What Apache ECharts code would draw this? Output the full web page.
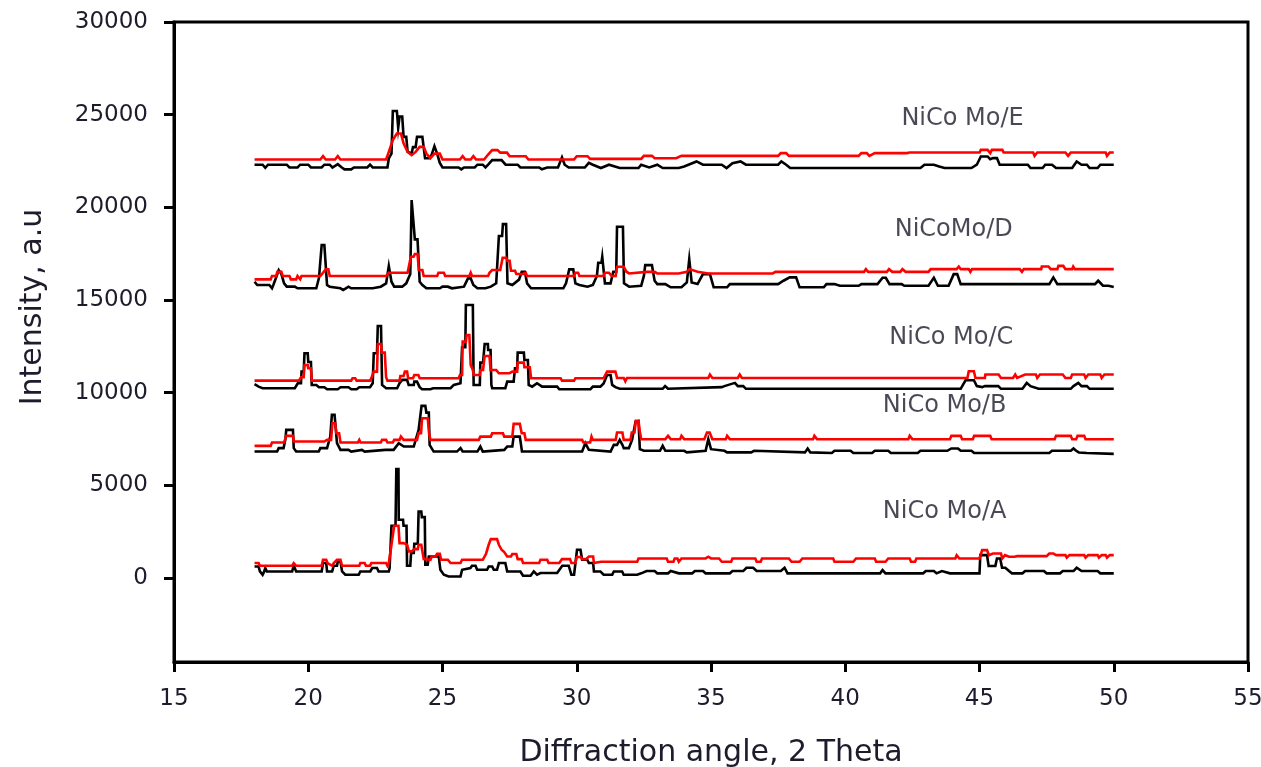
<!DOCTYPE html>
<html>
<head>
<meta charset="utf-8">
<script src="https://cdn.jsdelivr.net/npm/echarts@6/dist/echarts.min.js"></script>
<style>html,body{margin:0;padding:0;background:#fff;}#chart{width:1261px;height:767px;}</style>
</head>
<body>
<div id="chart"></div>
<script>
// ---- Data (2 Theta, intensity) ----
const xTicks = [15, 20, 25, 30, 35, 40, 45, 50, 55];
const yTickLabels = [0, 5000, 10000, 15000, 20000, 25000, 30000];

const sampleNames = ["NiCo Mo/E", "NiCoMo/D", "NiCo Mo/C", "NiCo Mo/B", "NiCo Mo/A"];
const labelX = [44.37, 44.04, 43.95, 43.7, 43.7];
const labelY = [24755, 18772, 12978, 9313, 3573];

const eBlack = [[18.0,22300],[18.3,22300],[18.4,22130],[18.5,22300],[19.2,22300],[19.3,22150],[19.6,22150],[19.7,22300],[20.0,22300],[20.1,22150],[20.5,22150],[20.6,22300],[20.8,22300],[20.9,22150],[21.1,22330],[21.25,22150],[21.35,22050],[21.6,22050],[21.7,22150],[22.2,22150],[22.3,22300],[22.4,22150],[22.95,22150],[23.0,22650],[23.1,22900],[23.15,25200],[23.3,25200],[23.35,24300],[23.4,24900],[23.5,24900],[23.55,23800],[23.65,23800],[23.7,23000],[23.85,22900],[23.9,23250],[24.0,23250],[24.05,23800],[24.25,23800],[24.35,22650],[24.5,22650],[24.6,22850],[24.7,23300],[24.8,22900],[24.9,22400],[25.0,22150],[25.6,22150],[25.7,22050],[25.8,22150],[26.2,22150],[26.3,22300],[26.5,22300],[26.6,22150],[26.7,22300],[26.85,22550],[27.2,22550],[27.35,22300],[27.8,22300],[27.9,22150],[28.6,22150],[28.7,22050],[28.9,22150],[29.3,22150],[29.45,22700],[29.55,22300],[29.7,22150],[30.3,22150],[30.45,22400],[30.6,22300],[30.9,22120],[31.2,22300],[31.6,22120],[32.3,22120],[32.4,22300],[32.7,22150],[33.0,22300],[33.2,22120],[33.8,22120],[34.0,22200],[34.46,22476],[34.7,22300],[35.4,22300],[35.58,22120],[35.8,22380],[36.1,22476],[36.3,22300],[37.5,22300],[37.62,22476],[37.8,22300],[37.95,22120],[42.8,22120],[42.95,22300],[43.3,22300],[43.5,22200],[43.7,22120],[44.7,22120],[44.9,22300],[45.05,22746],[45.3,22746],[45.4,22600],[45.5,22656],[45.65,22656],[45.75,22300],[46.8,22300],[46.9,22120],[47.35,22120],[47.45,22300],[47.7,22300],[47.85,22120],[48.45,22120],[48.62,22476],[48.8,22300],[49.0,22300],[49.1,22120],[49.4,22120],[49.5,22300],[50.0,22300]];
const eRed = [[18.0,22580],[20.45,22580],[20.55,22760],[20.65,22580],[21.0,22580],[21.1,22760],[21.2,22580],[22.9,22580],[23.0,22990],[23.15,23625],[23.3,23985],[23.45,23985],[23.55,23460],[23.7,22990],[23.85,22815],[24.0,22990],[24.15,23260],[24.3,23260],[24.4,22900],[24.55,22650],[24.7,22900],[24.9,22900],[25.0,22580],[25.65,22580],[25.75,22760],[25.85,22580],[26.05,22580],[26.15,22760],[26.25,22580],[26.55,22580],[26.7,22850],[26.85,23085],[27.05,23085],[27.15,22950],[27.4,22950],[27.5,22760],[28.1,22760],[28.2,22580],[29.9,22580],[30.0,22760],[30.4,22760],[30.5,22615],[32.4,22615],[32.5,22776],[32.8,22776],[32.9,22650],[33.7,22650],[33.75,22560],[33.9,22776],[37.5,22776],[37.6,22925],[37.8,22925],[37.9,22776],[40.5,22776],[40.6,22925],[40.8,22925],[40.9,22776],[41.1,22925],[42.3,22925],[42.4,22956],[45.0,22956],[45.05,23100],[45.3,23100],[45.4,22925],[45.46,23100],[45.85,23100],[45.9,22956],[47.0,22956],[47.05,22776],[47.15,22956],[48.2,22956],[48.3,22776],[48.4,22956],[49.7,22956],[49.75,22776],[49.85,22956],[50.0,22956]];

const dBlack = [[18.0,15987],[18.1,15809],[18.55,15809],[18.65,15631],[18.7,15809],[18.8,16200],[18.9,16617],[19.0,16400],[19.1,15900],[19.2,15720],[19.5,15720],[19.6,15631],[20.3,15631],[20.4,16200],[20.5,17965],[20.6,17965],[20.7,15809],[20.8,15720],[21.2,15631],[21.3,15540],[21.4,15631],[21.5,15720],[21.6,15631],[22.4,15631],[22.7,15720],[22.9,15900],[23.0,16833],[23.1,15987],[23.2,15720],[23.5,15720],[23.65,15900],[23.8,16400],[23.85,20390],[23.92,20390],[23.97,18270],[24.07,18270],[24.15,15987],[24.25,15809],[24.4,15631],[24.9,15631],[25.0,15720],[25.2,15720],[25.35,15631],[25.8,15720],[25.95,16170],[26.05,16170],[26.15,15809],[26.3,15631],[26.6,15631],[26.8,15720],[27.0,15900],[27.1,18450],[27.22,18450],[27.25,19097],[27.37,19097],[27.42,15900],[27.6,15809],[27.85,16100],[27.95,16527],[28.07,16527],[28.15,15900],[28.3,15631],[29.5,15631],[29.6,15900],[29.72,16655],[29.87,16655],[29.95,15900],[30.1,15809],[30.4,15720],[30.6,15809],[30.75,16300],[30.8,17011],[30.92,17011],[30.95,17334],[31.0,17334],[31.05,15900],[31.26,15900],[31.36,16527],[31.47,16527],[31.5,18951],[31.72,18951],[31.76,15900],[31.95,15720],[32.4,15770],[32.5,16300],[32.55,16880],[32.8,16880],[32.9,16040],[33.0,15860],[33.3,15860],[33.5,15685],[33.9,15685],[34.1,15950],[34.19,17200],[34.28,15950],[34.5,15860],[34.7,16397],[34.96,16397],[35.1,15685],[35.6,15685],[35.7,15860],[37.5,15860],[37.7,16040],[37.93,16220],[38.17,16220],[38.3,15685],[39.2,15685],[39.3,15860],[39.6,15860],[39.8,15770],[40.5,15770],[40.6,15860],[41.2,15860],[41.39,16200],[41.51,16200],[41.65,15860],[42.1,15860],[42.2,15770],[43.1,15770],[43.3,16200],[43.45,15770],[43.85,15770],[44.04,16397],[44.17,16397],[44.3,15860],[47.6,15860],[47.75,16220],[47.9,15860],[49.3,15860],[49.42,16040],[49.6,15770],[49.8,15770],[50.0,15700]];
const dRed = [[18.0,16116],[18.6,16116],[18.65,16294],[18.8,16294],[18.85,16527],[19.0,16527],[19.05,16294],[19.3,16294],[19.35,16116],[19.55,16116],[19.6,16294],[19.65,16294],[19.7,16116],[19.75,16294],[20.45,16294],[20.55,16473],[20.65,16655],[20.75,16655],[20.8,16294],[22.9,16294],[23.0,16473],[23.7,16473],[23.82,17334],[23.92,17334],[23.97,17480],[24.07,17480],[24.12,16617],[24.25,16617],[24.3,16294],[24.8,16294],[24.85,16473],[25.05,16473],[25.1,16294],[26.0,16294],[26.05,16473],[26.1,16294],[26.7,16294],[26.75,16473],[26.85,16617],[27.15,16617],[27.24,17280],[27.37,17280],[27.42,17119],[27.5,17119],[27.55,16580],[27.7,16580],[27.75,16402],[28.0,16402],[28.1,16473],[28.15,16294],[29.9,16294],[29.95,16473],[30.05,16473],[30.1,16294],[31.0,16294],[31.05,16473],[31.2,16473],[31.3,16294],[31.45,16294],[31.5,16795],[31.75,16795],[31.85,16527],[31.95,16434],[32.6,16520],[32.9,16520],[33.0,16434],[33.8,16434],[34.1,16520],[34.2,16666],[34.5,16520],[34.9,16434],[37.3,16434],[37.4,16520],[40.7,16520],[40.77,16666],[40.85,16520],[41.55,16520],[41.63,16666],[41.75,16520],[42.05,16520],[42.13,16666],[42.25,16520],[43.1,16520],[43.18,16666],[44.15,16666],[44.23,16806],[44.3,16666],[44.6,16666],[44.66,16520],[44.72,16666],[46.5,16666],[46.58,16520],[46.65,16666],[47.3,16666],[47.32,16806],[47.57,16806],[47.65,16666],[47.9,16666],[47.94,16844],[48.12,16844],[48.2,16666],[48.45,16666],[48.49,16806],[48.55,16666],[50.0,16666]];

const cBlack = [[18.0,10457],[18.07,10457],[18.15,10327],[18.3,10241],[19.5,10241],[19.61,10510],[19.73,10510],[19.75,11136],[19.83,11136],[19.86,12128],[19.98,12128],[20.0,11659],[20.1,11659],[20.13,10419],[20.3,10419],[20.4,10295],[20.6,10295],[20.7,10187],[21.1,10187],[21.2,10295],[21.5,10295],[21.6,10187],[21.8,10187],[21.9,10295],[22.3,10295],[22.4,10510],[22.44,12128],[22.56,12128],[22.59,13599],[22.71,13599],[22.75,10419],[22.9,10241],[23.31,10241],[23.4,10510],[23.5,10689],[23.68,10689],[23.74,10419],[23.93,10419],[23.95,10597],[24.05,10597],[24.15,10300],[24.24,10187],[24.55,10187],[24.65,10241],[25.3,10241],[25.42,10419],[25.67,10510],[25.73,12451],[25.85,12451],[25.87,14731],[26.13,14731],[26.16,10419],[26.39,10419],[26.41,11621],[26.51,11621],[26.57,12629],[26.69,12629],[26.7,12305],[26.79,12305],[26.82,10419],[26.85,10241],[27.34,10241],[27.41,10597],[27.65,10597],[27.7,11319],[27.78,11319],[27.8,12160],[28.03,12160],[28.05,11766],[28.18,11766],[28.21,10419],[28.34,10327],[28.52,10510],[28.71,10327],[29.27,10327],[29.35,10187],[30.51,10187],[30.6,10327],[30.88,10327],[31.0,10500],[31.13,10958],[31.26,10958],[31.32,10419],[31.44,10300],[31.6,10210],[33.2,10210],[33.29,10355],[33.4,10210],[35.4,10300],[35.5,10355],[35.89,10530],[36.0,10355],[36.2,10355],[36.3,10210],[44.3,10210],[44.48,10672],[44.79,10672],[44.9,10355],[45.1,10300],[45.2,10355],[45.7,10355],[45.8,10210],[46.6,10210],[46.76,10530],[46.9,10355],[47.2,10210],[48.4,10210],[48.5,10355],[48.68,10530],[48.8,10355],[49.0,10355],[49.1,10210],[50.0,10210]];
const cRed = [[18.0,10651],[19.65,10651],[19.73,10834],[19.83,10834],[19.86,11497],[19.98,11497],[20.0,11319],[20.1,11319],[20.13,10651],[21.6,10651],[21.65,10780],[21.75,10780],[21.8,10651],[22.3,10651],[22.35,10780],[22.44,11136],[22.56,11136],[22.59,12629],[22.71,12629],[22.74,12160],[22.85,12160],[22.9,10834],[22.95,10651],[23.4,10651],[23.43,10904],[23.55,10904],[23.6,11136],[23.68,11136],[23.72,10780],[23.9,10780],[23.95,10958],[24.1,10958],[24.15,10780],[25.6,10780],[25.65,10958],[25.73,10958],[25.75,12753],[25.87,12753],[25.9,13114],[26.0,13114],[26.05,11497],[26.13,11228],[26.16,10958],[26.39,10958],[26.41,11228],[26.51,11228],[26.57,11982],[26.75,11982],[26.79,11228],[27.0,11228],[27.1,11050],[27.5,11050],[27.6,11136],[27.78,11136],[27.8,11621],[28.03,11621],[28.05,11373],[28.25,11373],[28.3,10780],[29.4,10780],[29.45,10651],[29.9,10651],[29.95,10780],[31.0,10780],[31.13,11136],[31.44,11136],[31.5,10796],[31.75,10796],[31.81,10620],[31.87,10796],[34.9,10796],[34.96,10979],[35.05,10796],[36.0,10796],[36.07,10979],[36.15,10796],[44.55,10796],[44.6,11157],[44.79,11157],[44.85,10796],[45.2,10796],[45.22,10979],[45.71,10979],[45.8,10796],[46.25,10796],[46.33,10979],[46.4,10796],[46.7,10979],[47.1,10979],[47.15,10796],[47.25,10979],[48.1,10979],[48.2,10796],[48.4,10796],[48.45,10979],[48.9,10979],[48.95,10796],[49.05,10979],[49.5,10979],[49.55,10796],[49.65,10979],[50.0,10979]];

const bBlack = [[18.0,6824],[18.84,6824],[18.9,7007],[19.08,7007],[19.15,7500],[19.18,7993],[19.43,7993],[19.46,7007],[19.55,6824],[20.39,6824],[20.45,7007],[20.7,7007],[20.82,7632],[20.88,8802],[20.98,8802],[21.07,7277],[21.2,6915],[21.5,6915],[21.6,6824],[22.0,6915],[22.1,6824],[22.87,6915],[23.18,6915],[23.37,7277],[23.56,7093],[23.62,7093],[23.93,7093],[24.11,7993],[24.18,7993],[24.22,9287],[24.36,9287],[24.4,8926],[24.49,8926],[24.52,7185],[24.67,6824],[25.54,6824],[25.67,7007],[25.75,6824],[26.3,6824],[26.41,7093],[26.5,6824],[27.3,6915],[27.41,7093],[27.6,7093],[27.65,7632],[27.88,7632],[27.96,6824],[30.2,6824],[30.32,7277],[30.45,6915],[30.51,6824],[31.26,6824],[31.38,7185],[31.5,7185],[31.6,7454],[31.7,7185],[31.75,7007],[31.94,7007],[32.06,7454],[32.19,8441],[32.3,8472],[32.35,6953],[32.5,6866],[33.1,6866],[33.2,7134],[33.3,6866],[34.0,6866],[34.1,6780],[34.8,6866],[34.9,7492],[35.0,6953],[35.5,6866],[35.6,6780],[36.5,6780],[36.6,6866],[38.5,6780],[38.6,6990],[38.7,6780],[39.5,6743],[39.6,6866],[40.2,6866],[40.3,6743],[41.0,6743],[41.1,6866],[41.6,6866],[41.7,6743],[42.7,6743],[42.8,6866],[43.8,6866],[43.95,6990],[44.2,6990],[44.3,6866],[44.7,6866],[44.8,6743],[47.6,6743],[47.7,6866],[48.4,6866],[48.5,6990],[48.6,6866],[48.7,6775],[49.0,6743],[50.0,6700]];
const bRed = [[18.0,7131],[18.6,7131],[18.65,7309],[19.1,7309],[19.18,7670],[19.43,7670],[19.46,7363],[20.6,7363],[20.7,7454],[20.85,7454],[20.9,8355],[21.0,8355],[21.05,7815],[21.15,7815],[21.2,7309],[21.85,7309],[21.9,7454],[21.95,7309],[22.7,7309],[22.75,7454],[22.9,7454],[22.95,7309],[23.15,7309],[23.2,7454],[23.4,7454],[23.45,7632],[23.55,7454],[24.05,7454],[24.11,7815],[24.2,7815],[24.24,8624],[24.45,8624],[24.5,7815],[24.55,7454],[26.35,7454],[26.41,7632],[26.8,7632],[26.85,7815],[27.25,7815],[27.3,7632],[27.6,7632],[27.65,8317],[27.88,8317],[27.95,7815],[28.05,7815],[28.1,7454],[30.2,7454],[30.25,7309],[30.5,7309],[30.55,7632],[30.6,7454],[31.45,7454],[31.5,7850],[31.7,7850],[31.75,7454],[32.0,7454],[32.05,7850],[32.15,7850],[32.2,8480],[32.3,8480],[32.35,7900],[32.4,7492],[33.3,7492],[33.4,7670],[33.5,7492],[33.85,7492],[33.9,7670],[34.0,7492],[34.75,7492],[34.85,7848],[34.95,7848],[35.05,7492],[35.55,7492],[35.6,7670],[35.7,7492],[38.8,7492],[38.85,7670],[38.95,7492],[42.35,7492],[42.4,7670],[42.5,7492],[43.9,7492],[43.95,7670],[44.3,7670],[44.35,7492],[44.75,7492],[44.8,7670],[45.4,7670],[45.45,7492],[47.8,7492],[47.85,7670],[48.4,7670],[48.45,7492],[48.6,7492],[48.65,7670],[48.9,7670],[48.95,7492],[50.0,7492]];

const aBlack = [[18.0,626],[18.15,626],[18.2,356],[18.3,178],[18.36,356],[18.4,539],[18.46,356],[19.4,356],[19.46,663],[19.55,356],[20.5,356],[20.55,808],[20.67,808],[20.7,356],[20.89,356],[20.95,663],[21.07,663],[21.1,895],[21.2,895],[21.26,356],[21.38,178],[21.88,178],[21.94,356],[22.31,356],[22.38,539],[22.56,539],[22.62,356],[23.0,356],[23.03,539],[23.1,2819],[23.25,2819],[23.28,5875],[23.36,5875],[23.37,3142],[23.53,3142],[23.55,2819],[23.66,2819],[23.68,663],[23.8,663],[23.83,1348],[23.93,1348],[23.95,1849],[24.08,1849],[24.11,3590],[24.21,3590],[24.23,3288],[24.34,3288],[24.36,717],[24.45,717],[24.49,1164],[24.86,1164],[24.92,447],[25.05,178],[25.23,86],[25.67,86],[25.73,447],[26.04,539],[26.1,663],[26.23,663],[26.29,447],[26.66,447],[26.72,626],[26.85,626],[26.91,447],[27.03,447],[27.1,808],[27.34,808],[27.41,356],[27.9,356],[28.0,124],[28.28,124],[28.4,356],[28.52,178],[28.65,270],[29.27,270],[29.46,663],[29.7,663],[29.8,178],[29.9,178],[30.01,1525],[30.14,1525],[30.2,986],[30.39,986],[30.45,808],[30.61,808],[30.64,356],[30.88,356],[31.0,178],[31.32,178],[31.38,356],[31.69,356],[31.75,178],[32.25,178],[32.4,253],[32.6,377],[32.9,377],[33.0,253],[33.4,253],[33.5,377],[33.8,253],[34.3,253],[34.4,377],[34.7,377],[34.8,253],[35.7,253],[35.8,377],[36.2,377],[36.32,555],[36.57,555],[36.7,377],[37.6,377],[37.74,555],[37.85,253],[41.3,253],[41.39,431],[41.5,253],[42.9,253],[43.0,377],[43.3,377],[43.4,253],[43.6,377],[43.9,253],[45.0,253],[45.03,1234],[45.28,1234],[45.34,647],[45.59,647],[45.65,1056],[45.77,1056],[45.84,555],[45.96,555],[46.1,377],[46.21,253],[46.6,253],[46.7,377],[47.4,377],[47.5,253],[48.0,253],[48.1,377],[48.5,377],[48.62,555],[48.8,377],[49.4,377],[49.5,253],[50.0,253]];
const aRed = [[18.0,808],[18.15,808],[18.2,663],[19.4,663],[19.46,808],[19.55,663],[20.5,663],[20.55,986],[20.67,986],[20.72,808],[20.89,663],[20.95,808],[21.07,986],[21.2,986],[21.26,663],[21.9,663],[21.94,808],[22.1,808],[22.15,663],[22.3,663],[22.35,808],[22.9,808],[22.95,663],[23.0,808],[23.12,2000],[23.2,2819],[23.36,2819],[23.4,1885],[23.55,1885],[23.68,1800],[23.75,1436],[23.85,1436],[23.95,1562],[24.08,1562],[24.11,1795],[24.21,1795],[24.3,1023],[24.55,986],[24.6,1164],[24.74,1164],[24.8,1308],[24.9,1308],[24.95,986],[25.2,986],[25.3,808],[25.67,808],[25.73,986],[26.5,986],[26.62,1300],[26.72,1795],[26.8,2101],[27.03,2101],[27.1,1795],[27.2,1525],[27.3,1400],[27.41,1164],[27.55,1164],[27.6,1293],[27.75,1293],[27.8,1023],[27.95,1023],[28.0,808],[28.6,808],[28.65,986],[28.9,986],[28.95,808],[29.35,808],[29.45,1023],[29.75,1023],[29.8,808],[29.95,808],[30.0,1132],[30.15,1132],[30.2,1023],[30.35,1023],[30.45,1164],[30.61,1164],[30.64,808],[30.9,878],[32.25,878],[32.3,1056],[33.35,1056],[33.4,878],[33.6,878],[33.65,1056],[33.75,1056],[33.8,878],[33.9,1056],[34.8,1056],[34.9,1148],[35.0,1056],[35.3,1056],[35.4,878],[35.75,878],[35.8,1056],[36.65,1056],[36.7,878],[36.85,878],[36.9,1056],[37.9,1056],[38.0,878],[38.3,878],[38.4,1056],[39.55,1056],[39.6,878],[40.3,878],[40.4,1056],[41.1,1056],[41.15,878],[41.5,878],[41.6,1056],[42.4,1056],[42.45,878],[42.6,878],[42.65,1056],[44.1,1056],[44.15,1234],[44.25,1056],[45.0,1056],[45.1,1504],[45.28,1504],[45.35,1234],[45.5,1326],[45.8,1326],[45.85,1056],[45.95,1234],[46.1,1148],[46.3,1148],[46.4,1180],[47.5,1180],[47.6,1326],[47.75,1326],[47.85,1234],[48.2,1234],[48.25,1100],[48.35,1234],[48.9,1234],[48.95,1100],[49.05,1234],[49.4,1234],[49.45,1100],[49.55,1234],[49.7,1234],[49.75,1100],[49.85,1234],[50.0,1234]];

// ---- Chart ----
const blackSets = [eBlack, dBlack, cBlack, bBlack, aBlack];
const redSets = [eRed, dRed, cRed, bRed, aRed];
const FONT = "DejaVu Sans";
const TXT = "#1c1c2c";

function lineSeries(data, color) {
  return {
    type: 'line', data: data, showSymbol: false, symbol: 'none',
    lineStyle: { color: color, width: 2.6, join: 'miter' },
    silent: true, animation: false
  };
}

const series = [];
blackSets.forEach(d => series.push(lineSeries(d, '#000000')));
redSets.forEach(d => series.push(lineSeries(d, '#ff0000')));
series.push({
  type: 'scatter', symbolSize: 0, silent: true, animation: false,
  data: sampleNames.map((n, i) => ({ name: n, value: [labelX[i], labelY[i]] })),
  label: {
    show: true, position: [0, 0], align: 'center', verticalAlign: 'middle',
    formatter: p => p.name, fontFamily: FONT, fontSize: 24, color: TXT
  }
});

const chart = echarts.init(document.getElementById('chart'), null, { renderer: 'canvas' });
chart.setOption({
  backgroundColor: '#ffffff',
  animation: false,
  grid: { left: 174, right: 13, top: 22, bottom: 105, show: true, borderColor: '#000', borderWidth: 3,
          containLabel: false, outerBoundsMode: 'none' },
  xAxis: {
    type: 'value', min: xTicks[0], max: xTicks[xTicks.length - 1], interval: 5,
    name: 'Diffraction angle, 2 Theta', nameLocation: 'middle', nameGap: 76,
    nameTextStyle: { fontFamily: FONT, fontSize: 30, color: TXT },
    axisLine: { show: true, onZero: false, lineStyle: { color: '#000', width: 3 } },
    axisTick: { show: true, inside: false, length: 10, lineStyle: { color: '#000', width: 3 } },
    axisLabel: { margin: 26, fontFamily: FONT, fontSize: 23, color: TXT },
    splitLine: { show: false }
  },
  yAxis: {
    type: 'value', min: -4530, max: 30000,
    name: 'Intensity, a.u', nameLocation: 'middle', nameGap: 126, nameRotate: 90,
    nameTextStyle: { fontFamily: FONT, fontSize: 30, color: TXT, padding: [0, 0, 0, 70] },
    axisLine: { show: true, onZero: false, lineStyle: { color: '#000', width: 3 } },
    axisTick: { show: true, inside: false, length: 10, customValues: yTickLabels, lineStyle: { color: '#000', width: 3 } },
    axisLabel: { margin: 26, fontFamily: FONT, fontSize: 23, color: TXT, customValues: yTickLabels, formatter: v => String(v) },
    splitLine: { show: false }
  },
  series: series
});
</script>
</body>
</html>
